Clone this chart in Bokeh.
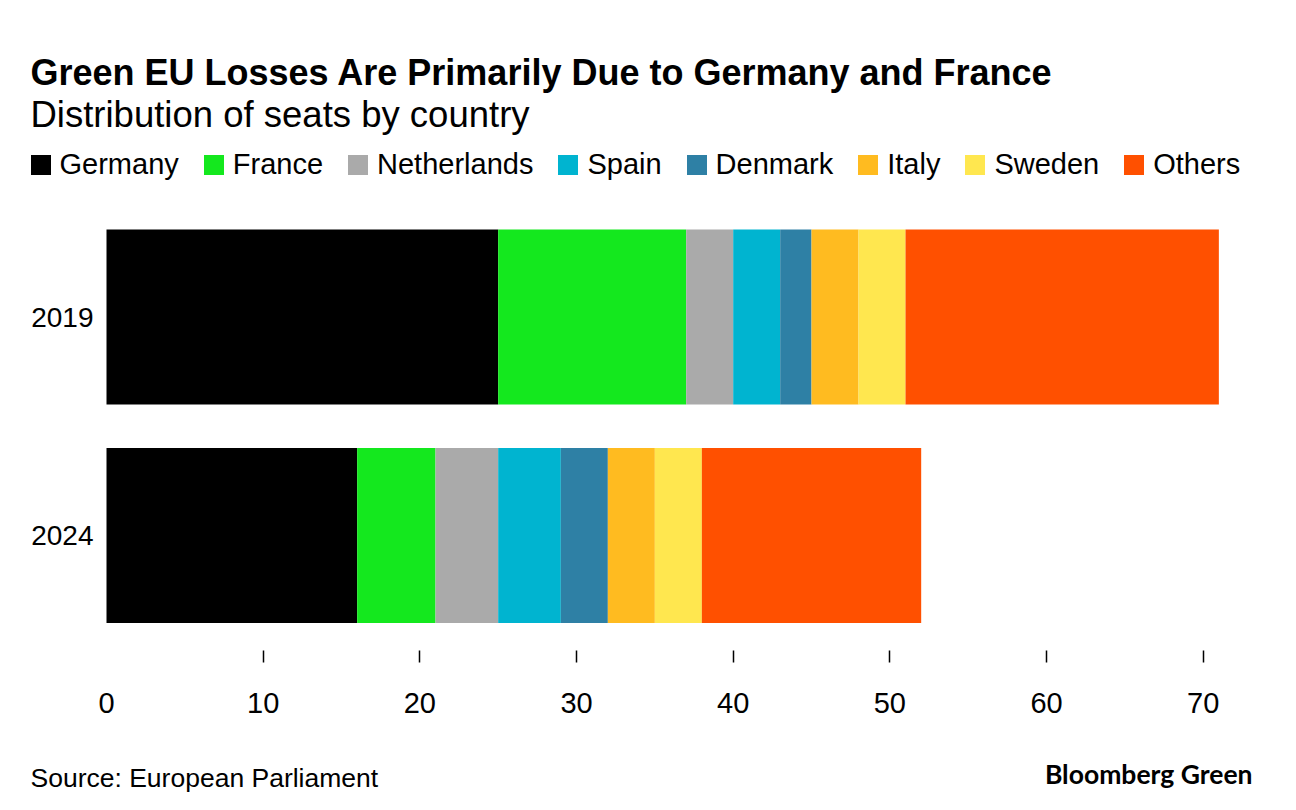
from bokeh.plotting import figure
from bokeh.models import (ColumnDataSource, Legend, LegendItem, FixedTicker, Range1d,
                          Label, LinearAxis)
from bokeh.embed import file_html
from bokeh.resources import INLINE

years = ["2019", "2024"]
year_pos = [1, 0]
countries = ["Germany", "France", "Netherlands", "Spain", "Denmark", "Italy", "Sweden", "Others"]
seats_2019 = [25, 12, 3, 3, 2, 3, 3, 20]
seats_2024 = [16, 5, 4, 4, 3, 3, 3, 14]
colors = ["#000000", "#14e81e", "#aaaaaa", "#00b4d0", "#2e80a5", "#ffbb20", "#ffe74f", "#ff5000"]
x_ticks = [0, 10, 20, 30, 40, 50, 60, 70]

FONT = "Liberation Sans"
W, H = 1280, 794

data = {"y": year_pos}
for i, c in enumerate(countries):
    data[c] = [seats_2019[i], seats_2024[i]]
source = ColumnDataSource(data)

# frame covers the whole canvas; the value axis 0 sits 106 px from the left
px_x = 15.667   # pixels per seat
px_y = 218.5    # pixels per bar slot
x0_px, y0_px = 106, 535
p = figure(width=W, height=H, output_backend="svg", toolbar_location=None,
           x_range=Range1d(-x0_px / px_x, (W - x0_px) / px_x),
           y_range=Range1d(-(H - y0_px) / px_y, y0_px / px_y),
           x_axis_type=None, y_axis_type=None,
           min_border_left=0, min_border_right=0, min_border_top=0, min_border_bottom=0)
p.outline_line_color = None
p.xgrid.visible = False
p.ygrid.visible = False

renderers = p.hbar_stack(countries, y="y", height=0.8, color=colors, source=source, line_color=None)

legend = Legend(items=[LegendItem(label=c, renderers=[r]) for c, r in zip(countries, renderers)],
                orientation="horizontal", location=(27.5, H - 180.5),
                glyph_width=25, glyph_height=25, label_standoff=7, spacing=22,
                padding=0, margin=0, border_line_color=None, background_fill_alpha=0,
                label_text_font=FONT, label_text_font_size="29px", label_text_color="#000000")
p.add_layout(legend)

# axes placed at fixed data locations
xa = LinearAxis(fixed_location=-(650 - y0_px) / px_y)
xa.ticker = FixedTicker(ticks=x_ticks, minor_ticks=x_ticks[1:])
xa.axis_line_color = None
xa.major_tick_out = 0
xa.major_tick_in = 0
xa.minor_tick_out = 12
xa.minor_tick_in = 0
xa.minor_tick_line_color = "#000000"
xa.minor_tick_line_width = 1.5
xa.major_label_standoff = 30
xa.major_label_text_font = FONT
xa.major_label_text_font_size = "29px"
xa.major_label_text_color = "#000000"
p.add_layout(xa, "below")

ya = LinearAxis(fixed_location=0)
ya.ticker = FixedTicker(ticks=year_pos, minor_ticks=[])
ya.major_label_overrides = {1: years[0], 0: years[1]}
ya.axis_line_color = None
ya.major_tick_out = 0
ya.major_tick_in = 0
ya.minor_tick_out = 0
ya.minor_tick_in = 0
ya.major_label_standoff = 13
ya.major_label_text_font = FONT
ya.major_label_text_font_size = "28px"
ya.major_label_text_color = "#000000"
p.add_layout(ya, "left")

def screen_label(x, y_from_top, text, size, bold=False, align="left", font=FONT):
    p.add_layout(Label(x=x, y=H - y_from_top, x_units="screen", y_units="screen", text=text,
                       text_font=font, text_font_size=size,
                       text_font_style="bold" if bold else "normal", text_color="#000000",
                       text_baseline="alphabetic", text_align=align))

screen_label(30, 72, "Green EU Losses Are Primarily Due to Germany and France", "36px", bold=True)
screen_label(30, 114, "Distribution of seats by country", "36.5px")
screen_label(30, 777, "Source: European Parliament", "26.5px")
screen_label(1252, 773, "Bloomberg Green", "26.5px", bold=True, align="right", font="Lato")

open("out.html", "w").write(file_html(p, INLINE))
